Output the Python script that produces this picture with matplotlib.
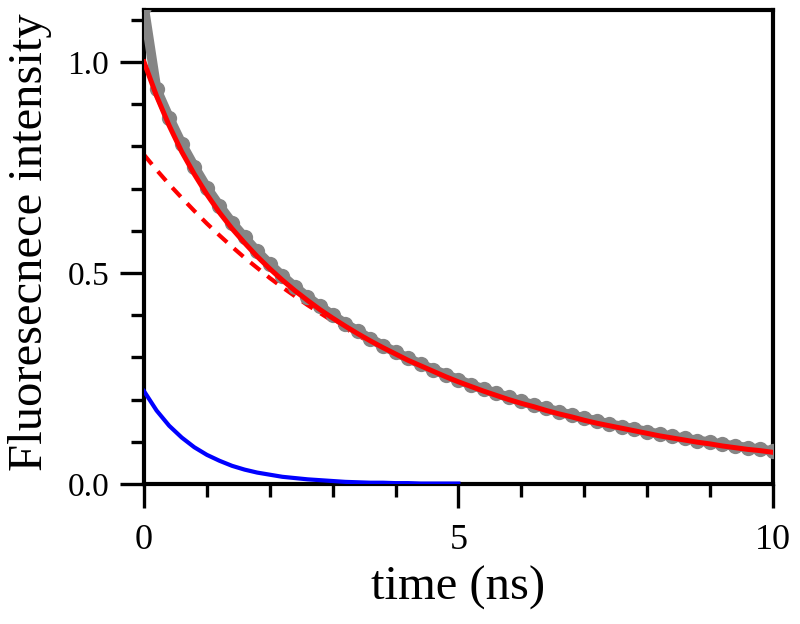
import numpy as np
import matplotlib
matplotlib.use("Agg")
import matplotlib.pyplot as plt
from matplotlib.ticker import MultipleLocator

# Decay data (gray), every 0.2 ns
t_data = np.round(np.arange(0, 10.01, 0.2), 1)
decay = [1.13, 0.935, 0.868, 0.806, 0.752, 0.702, 0.659, 0.619, 0.584, 0.551,
         0.521, 0.493, 0.467, 0.443, 0.421, 0.400, 0.380, 0.362, 0.344, 0.328,
         0.312, 0.298, 0.284, 0.271, 0.259, 0.247, 0.235, 0.225, 0.215, 0.205,
         0.196, 0.187, 0.179, 0.171, 0.163, 0.156, 0.149, 0.142, 0.136, 0.130,
         0.124, 0.118, 0.113, 0.108, 0.103, 0.099, 0.094, 0.090, 0.086, 0.082,
         0.078]

# Fit (red solid), slow component (red dashed), fast component (blue)
t_fit = t_data
fit_total = [1.000, 0.919, 0.849, 0.787, 0.734, 0.686, 0.643, 0.605, 0.571, 0.539,
             0.510, 0.483, 0.458, 0.435, 0.413, 0.393, 0.374, 0.356, 0.339, 0.323,
             0.308, 0.293, 0.280, 0.267, 0.254, 0.242, 0.231, 0.220, 0.210, 0.200,
             0.191, 0.183, 0.174, 0.166, 0.159, 0.151, 0.144, 0.138, 0.132, 0.126,
             0.120, 0.114, 0.109, 0.104, 0.099, 0.095, 0.090, 0.086, 0.082, 0.079,
             0.075]
fit_slow = [0.780, 0.744, 0.710, 0.678, 0.647, 0.617, 0.589, 0.562, 0.536, 0.512,
            0.488, 0.466, 0.445, 0.424, 0.405, 0.386, 0.369, 0.352, 0.336, 0.320,
            0.306, 0.292, 0.278, 0.266, 0.253, 0.242, 0.231, 0.220, 0.210, 0.201,
            0.191, 0.183, 0.174, 0.166, 0.159, 0.151, 0.144, 0.138, 0.132, 0.126,
            0.120, 0.114, 0.109, 0.104, 0.099, 0.095, 0.090, 0.086, 0.082, 0.079,
            0.075]
t_fast = t_data[:26]
fit_fast = [0.220, 0.174, 0.138, 0.110, 0.087, 0.069, 0.055, 0.043, 0.034, 0.027,
            0.022, 0.017, 0.014, 0.011, 0.009, 0.007, 0.005, 0.004, 0.003, 0.003,
            0.002, 0.002, 0.001, 0.001, 0.001, 0.001]

plt.rcParams['font.family'] = ['Liberation Serif', 'DejaVu Serif']

fig = plt.figure(figsize=(8, 6.24), dpi=100)
ax = fig.add_axes([0.18, 0.2244, 0.786, 0.7596])

ax.plot(t_fit, fit_slow, color='red', lw=3, ls=(0, (3, 2.2)), zorder=2)
ax.plot(t_data, decay, color='#858585', lw=7, marker='o', ms=11, mew=0,
        solid_joinstyle='round', solid_capstyle='round', zorder=3)
ax.plot(t_fit, fit_total, color='red', lw=3.6, zorder=4)
ax.plot(t_fast, fit_fast, color='#0000ff', lw=3, zorder=5)

ax.set_xlim(0, 10)
ax.set_ylim(0, 1.123)
ax.xaxis.set_major_locator(MultipleLocator(5))
ax.xaxis.set_minor_locator(MultipleLocator(1))
ax.yaxis.set_major_locator(MultipleLocator(0.5))
ax.yaxis.set_minor_locator(MultipleLocator(0.1))
ax.xaxis.set_major_formatter(plt.FuncFormatter(lambda v, p: f"{v:g}"))
ax.yaxis.set_major_formatter(plt.FormatStrFormatter('%.1f'))

for s in ax.spines.values():
    s.set_linewidth(3)
ax.tick_params(which='major', direction='out', length=17, width=2.4)
ax.tick_params(which='minor', direction='out', length=9.5, width=2.4)
ax.tick_params(axis='x', which='major', pad=12, labelsize=26)
ax.tick_params(axis='y', which='major', pad=8, labelsize=24)

ax.set_xlabel('time (ns)', fontsize=35)
ax.set_ylabel('Fluoresecnece intensity', fontsize=35)
ax.xaxis.set_label_coords(0.5, -0.172)
ax.yaxis.set_label_coords(-0.146, 0.51)

fig.savefig('out.png', dpi=100)
